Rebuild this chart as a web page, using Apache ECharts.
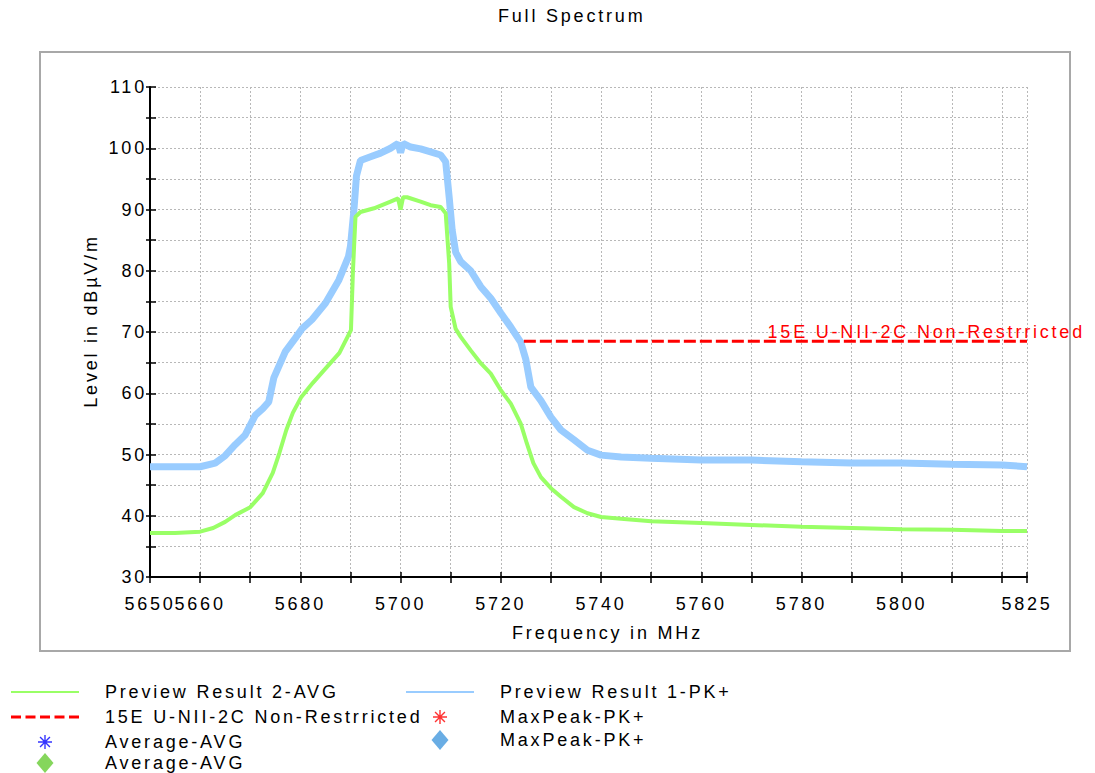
<!DOCTYPE html>
<html>
<head>
<meta charset="utf-8">
<script src="https://cdn.jsdelivr.net/npm/echarts@6/dist/echarts.min.js"></script>
<style>
html, body { margin: 0; padding: 0; background: #fff; }
#main { width: 1095px; height: 773px; }
#main text { letter-spacing: 2.8px; }
</style>
</head>
<body>
<div id="main"></div>
<script>
// Preview Result 1-PK+ (blue trace)
var freqPk = [5650, 5655, 5660, 5663, 5665, 5667, 5669, 5671, 5672.5, 5673.7, 5674.7, 5677, 5679, 5680.4, 5682.3, 5685, 5687.7, 5689.6,
  5690, 5690.7, 5691.2, 5692, 5694, 5696, 5698, 5699.5, 5700, 5700.5, 5702, 5704, 5706, 5708, 5709, 5709.7, 5710.3, 5711, 5712, 5714,
  5716, 5718, 5720, 5722, 5724, 5725, 5726, 5728, 5730, 5732, 5734.6, 5737.3, 5740, 5744, 5750, 5760, 5770, 5780, 5790, 5800, 5810, 5820, 5825];
var levelPk = [48.0, 48.0, 48.0, 48.6, 49.8, 51.6, 53.2, 56.4, 57.5, 58.6, 62.5, 66.8, 69.0, 70.6, 72.0, 74.7, 78.5, 82.3,
  84.0, 90.0, 95.5, 98.0, 98.6, 99.2, 100.0, 100.8, 99.3, 100.8, 100.2, 99.9, 99.4, 98.9, 97.8, 92.0, 86.6, 83.0, 81.5, 80.0,
  77.4, 75.5, 73.1, 70.8, 68.3, 65.5, 61.0, 58.8, 56.1, 54.0, 52.4, 50.7, 49.9, 49.6, 49.4, 49.1, 49.1, 48.8, 48.6, 48.6, 48.4, 48.3, 48.0];

// Preview Result 2-AVG (green trace)
var freqAvg = [5650, 5655, 5660, 5662.6, 5665, 5667, 5670, 5672.5, 5674.5, 5675.8, 5677.2, 5678.5, 5680.2, 5682.5, 5685.1, 5687.8, 5690.1,
  5690.5, 5691, 5692, 5694.7, 5698, 5699.5, 5700, 5700.5, 5701.3, 5704, 5706, 5708, 5709, 5709.7, 5710, 5711, 5712, 5714,
  5716, 5718, 5720, 5722, 5724, 5725.2, 5726.5, 5728, 5730, 5732, 5734.6, 5737.3, 5740, 5744, 5750, 5760, 5770, 5780, 5790, 5800, 5810, 5820, 5825];
var levelAvg = [37.2, 37.2, 37.4, 38.0, 39.0, 40.1, 41.4, 43.7, 47.0, 50.2, 54.0, 56.8, 59.4, 61.7, 64.1, 66.6, 70.3,
  80.0, 88.8, 89.6, 90.2, 91.3, 91.8, 90.0, 92.0, 92.0, 91.3, 90.7, 90.4, 89.4, 81.2, 74.1, 70.5, 69.2, 67.0,
  64.9, 63.2, 60.5, 58.3, 55.0, 51.8, 48.6, 46.3, 44.5, 43.1, 41.4, 40.4, 39.8, 39.5, 39.1, 38.8, 38.5, 38.2, 38.0, 37.8, 37.7, 37.5, 37.5];

// 15E U-NII-2C limit line
var limitFreq = [5724.6, 5825];
var limitLevel = [68.5, 68.5];

var xLabelTicks = [5650, 5660, 5680, 5700, 5720, 5740, 5760, 5780, 5800, 5825];

function zip(f, v) {
  return f.map(function (x, i) { return [x, v[i]]; });
}

var font = 'Liberation Sans';
var asterisk = 'path://M-1,-10L1,-10L1,10L-1,10Z M-10,-1L10,-1L10,1L-10,1Z M-6.36,-7.78L7.78,6.36L6.36,7.78L-7.78,-6.36Z M-6.36,7.78L-7.78,6.36L6.36,-7.78L7.78,-6.36Z';
var diamond = 'path://M0,-10L8.5,0L0,10L-8.5,0Z';
var solidIcon = 'path://M0,0L68,0L68,2L0,2Z';
var dashIcon = 'path://M0,0L10,0L10,3L0,3Z M14.5,0L24.5,0L24.5,3L14.5,3Z M29,0L39,0L39,3L29,3Z M43.5,0L53.5,0L53.5,3L43.5,3Z M58,0L68,0L68,3L58,3Z';

// legend box is placed by its visible bounds, so narrow icons need the left edge shifted
function legendRow(left, centerY, h, item) {
  return {
    left: left, top: centerY - h / 2, padding: 0,
    itemWidth: 68, itemHeight: h,
    selectedMode: false,
    textStyle: { fontFamily: font, fontSize: 18, color: '#000', padding: [0, 0, 0, 21] },
    data: [item]
  };
}

var chart = echarts.init(document.getElementById('main'), null, { renderer: 'svg' });

var option = {
  animation: false,
  backgroundColor: '#fff',
  title: {
    text: 'Full Spectrum', left: 498, top: 7, padding: 0,
    textStyle: { fontFamily: font, fontSize: 18, fontWeight: 'normal', color: '#000' }
  },
  graphic: [{
    type: 'rect', z: -10,
    shape: { x: 40, y: 52, width: 1030, height: 599 },
    style: { fill: 'none', stroke: '#a8a8a8', lineWidth: 2 }
  }],
  grid: { left: 150, top: 87, width: 877, height: 490 },
  legend: [
    legendRow(11, 690, 14, { name: 'Preview Result 2-AVG', icon: solidIcon }),
    legendRow(11, 715, 14, { name: '15E U-NII-2C Non-Restrricted', icon: dashIcon }),
    legendRow(38, 740, 14, { name: 'Average-AVG', icon: asterisk, itemStyle: { color: '#0000ff' } }),
    legendRow(36.5, 763, 20, { name: 'Average-AVG', icon: diamond, itemStyle: { color: '#66cc33' } }),
    legendRow(406, 690, 14, { name: 'Preview Result 1-PK+', icon: solidIcon }),
    legendRow(433, 715, 14, { name: 'MaxPeak-PK+', icon: asterisk, itemStyle: { color: '#ff0000' } }),
    legendRow(431.5, 740, 20, { name: 'MaxPeak-PK+', icon: diamond, itemStyle: { color: '#4499dd' } })
  ],
  xAxis: [{
    type: 'value', min: 5650, max: 5825, interval: 10,
    name: 'Frequency in MHz', nameLocation: 'middle', nameGap: 47,
    nameTextStyle: { fontFamily: font, fontSize: 18, color: '#000', padding: [0, 0, 0, 38] },
    axisLine: { show: true, onZero: false, lineStyle: { color: '#000', width: 2 } },
    axisTick: { show: true, inside: true, length: 5, lineStyle: { color: '#000', width: 1.5 } },
    axisLabel: {
      margin: 18, fontFamily: font, fontSize: 18, color: '#000',
      showMinLabel: true, showMaxLabel: true,
      formatter: function (v) { return xLabelTicks.indexOf(v) >= 0 ? String(v) : ''; }
    },
    splitLine: { show: true, lineStyle: { color: '#b8b8b8', type: [2, 2], width: 1 } }
  }, {
    type: 'value', min: 5650, max: 5825, interval: 10, position: 'bottom',
    axisLine: { show: false },
    axisTick: { show: true, length: 6, lineStyle: { color: '#000', width: 1.5 } },
    axisLabel: { show: false },
    splitLine: { show: false }
  }],
  yAxis: [{
    type: 'value', min: 30, max: 110, interval: 5,
    name: 'Level in dBµV/m', nameLocation: 'middle', nameGap: 50, nameRotate: 90,
    nameTextStyle: { fontFamily: font, fontSize: 18, color: '#000', padding: [0, 0, 0, 22] },
    axisLine: { show: true, onZero: false, lineStyle: { color: '#000', width: 2 } },
    axisTick: { show: true, inside: true, length: 6, lineStyle: { color: '#000', width: 1.5 } },
    axisLabel: {
      margin: 3, fontFamily: font, fontSize: 18, color: '#000',
      formatter: function (v) { return v % 10 === 0 ? String(v) : ''; }
    },
    splitLine: { show: true, lineStyle: { color: '#b8b8b8', type: [2, 2], width: 1 } }
  }, {
    type: 'value', min: 30, max: 110, interval: 5, position: 'left',
    axisLine: { show: false },
    axisTick: { show: true, length: 4, lineStyle: { color: '#000', width: 1.5 } },
    axisLabel: { show: false },
    splitLine: { show: false }
  }],
  series: [
    {
      type: 'line', name: 'Preview Result 1-PK+', data: zip(freqPk, levelPk),
      symbol: 'none', silent: true,
      itemStyle: { color: '#99ccff' },
      lineStyle: { color: '#99ccff', width: 7 }
    },
    {
      type: 'line', name: 'Preview Result 2-AVG', data: zip(freqAvg, levelAvg),
      symbol: 'none', silent: true,
      itemStyle: { color: '#99ff66' },
      lineStyle: { color: '#99ff66', width: 4 }
    },
    {
      type: 'line', name: '15E U-NII-2C Non-Restrricted', data: zip(limitFreq, limitLevel),
      symbol: 'none', silent: true,
      itemStyle: { color: '#ff0000' },
      lineStyle: { color: '#ff0000', width: 3, type: [12, 4] },
      endLabel: {
        show: true, formatter: '{a}', align: 'right', verticalAlign: 'bottom', distance: 58,
        color: '#ff0000', fontFamily: font, fontSize: 18
      }
    },
    { type: 'scatter', name: 'Average-AVG', data: [], symbol: asterisk, itemStyle: { color: '#0000ff' } },
    { type: 'scatter', name: 'MaxPeak-PK+', data: [], symbol: asterisk, itemStyle: { color: '#ff0000' } }
  ]
};

chart.setOption(option);
</script>
</body>
</html>
